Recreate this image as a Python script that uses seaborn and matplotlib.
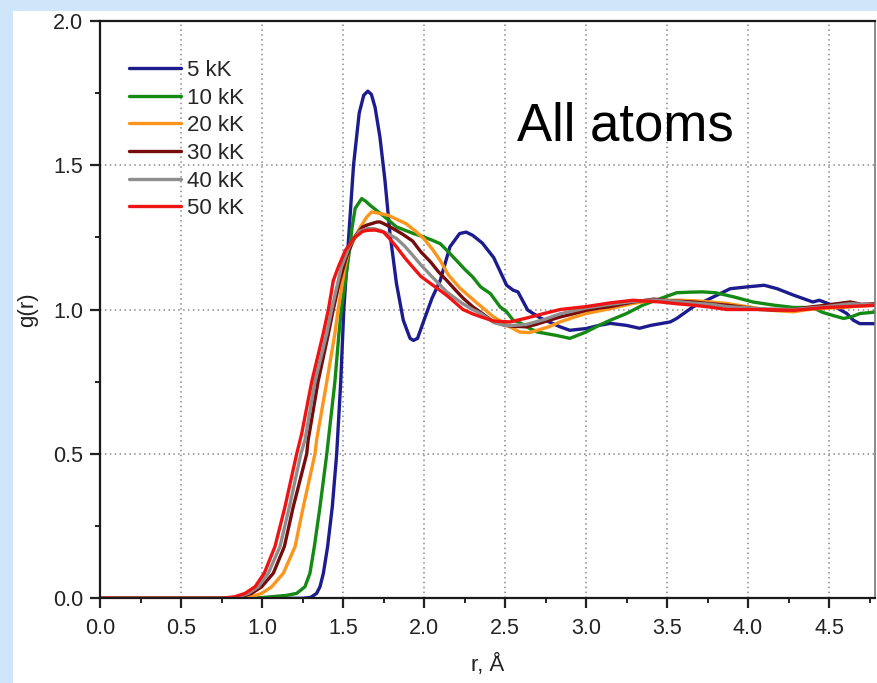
import numpy as np
import pandas as pd
import matplotlib
matplotlib.use("Agg")
import matplotlib.pyplot as plt
from matplotlib.patches import Rectangle
from matplotlib.ticker import MultipleLocator
import seaborn as sns

# Radial distribution functions g(r) at several temperatures
r_5 = [0, 1.25, 1.30, 1.337, 1.358, 1.379, 1.405, 1.434, 1.461, 1.486, 1.505, 1.535,
       1.565, 1.60, 1.628, 1.653, 1.675, 1.698, 1.728, 1.759, 1.79, 1.83, 1.872, 1.914,
       1.935, 1.96, 2.0, 2.05, 2.10, 2.16, 2.22, 2.26, 2.30, 2.36, 2.43, 2.51, 2.55,
       2.58, 2.64, 2.72, 2.84, 2.90, 3.0, 3.08, 3.15, 3.25, 3.33, 3.40, 3.46, 3.52,
       3.56, 3.66, 3.77, 3.89, 3.99, 4.10, 4.18, 4.28, 4.40, 4.44, 4.52, 4.61, 4.65,
       4.69, 4.80]
g_5 = [0, 0, 0.003, 0.017, 0.04, 0.087, 0.179, 0.317, 0.5, 0.75, 1.0, 1.25,
       1.5, 1.68, 1.742, 1.756, 1.745, 1.70, 1.597, 1.447, 1.263, 1.09, 0.963, 0.90,
       0.893, 0.90, 0.963, 1.04, 1.10, 1.217, 1.263, 1.268, 1.257, 1.23, 1.18, 1.084, 1.067,
       1.061, 0.998, 0.97, 0.94, 0.928, 0.934, 0.945, 0.952, 0.945, 0.935, 0.945, 0.951, 0.957,
       0.969, 1.009, 1.039, 1.072, 1.078, 1.084, 1.072, 1.05, 1.026, 1.032, 1.015, 0.986, 0.963,
       0.951, 0.951]

r_10 = [0, 0.95, 1.05, 1.15, 1.214, 1.265, 1.296, 1.323, 1.358, 1.40, 1.45, 1.475,
        1.49, 1.52, 1.54, 1.555, 1.575, 1.615, 1.64, 1.667, 1.73, 1.78, 1.83, 1.88,
        1.93, 2.0, 2.05, 2.10, 2.15, 2.20, 2.25, 2.30, 2.35, 2.41, 2.47, 2.51, 2.55,
        2.59, 2.65, 2.70, 2.74, 2.82, 2.90, 3.0, 3.08, 3.15, 3.25, 3.35, 3.46, 3.56,
        3.64, 3.72, 3.80, 3.91, 4.03, 4.16, 4.28, 4.40, 4.46, 4.52, 4.59, 4.64, 4.69,
        4.80]
g_10 = [0, 0, 0.005, 0.01, 0.017, 0.04, 0.087, 0.179, 0.317, 0.5, 0.75, 0.917,
        1.0, 1.12, 1.205, 1.28, 1.35, 1.384, 1.375, 1.361, 1.333, 1.31, 1.286, 1.275,
        1.264, 1.251, 1.24, 1.228, 1.20, 1.17, 1.14, 1.113, 1.078, 1.055, 1.009, 0.992, 0.963,
        0.955, 0.935, 0.922, 0.918, 0.91, 0.90, 0.922, 0.945, 0.963, 0.986, 1.015, 1.038, 1.058,
        1.06, 1.061, 1.058, 1.044, 1.026, 1.015, 1.007, 1.007, 0.99, 0.98, 0.969, 0.975, 0.986,
        0.992]

r_20 = [0, 0.85, 0.93, 0.998, 1.06, 1.132, 1.204, 1.255, 1.327, 1.337, 1.40, 1.45,
        1.47, 1.512, 1.535, 1.595, 1.646, 1.677, 1.73, 1.78, 1.84, 1.89, 1.95, 2.0,
        2.05, 2.10, 2.15, 2.22, 2.33, 2.43, 2.53, 2.59, 2.65, 2.70, 2.77, 2.84, 2.92,
        3.0, 3.08, 3.15, 3.22, 3.29, 3.37, 3.46, 3.58, 3.68, 3.77, 3.87, 3.97, 4.07,
        4.17, 4.28, 4.35, 4.42, 4.50, 4.59, 4.68, 4.80]
g_20 = [0, 0, 0.005, 0.017, 0.04, 0.087, 0.179, 0.317, 0.5, 0.548, 0.75, 0.917,
        1.0, 1.147, 1.205, 1.274, 1.32, 1.338, 1.332, 1.326, 1.31, 1.297, 1.27, 1.245,
        1.21, 1.17, 1.12, 1.075, 1.021, 0.974, 0.94, 0.922, 0.92, 0.928, 0.94, 0.957, 0.972,
        0.986, 0.995, 1.003, 1.012, 1.021, 1.028, 1.032, 1.032, 1.03, 1.026, 1.021, 1.012, 1.003,
        0.996, 0.992, 0.998, 1.003, 1.005, 1.007, 1.012, 1.015]

r_30 = [0, 0.80, 0.87, 0.936, 0.998, 1.07, 1.138, 1.193, 1.276, 1.285, 1.346, 1.41,
        1.44, 1.48, 1.52, 1.57, 1.62, 1.646, 1.71, 1.73, 1.77, 1.81, 1.87, 1.93,
        1.98, 2.04, 2.09, 2.14, 2.19, 2.24, 2.30, 2.35, 2.43, 2.50, 2.55, 2.63, 2.69,
        2.74, 2.84, 2.92, 3.0, 3.08, 3.15, 3.22, 3.29, 3.42, 3.52, 3.66, 3.77, 3.87,
        3.97, 4.07, 4.17, 4.28, 4.38, 4.48, 4.55, 4.63, 4.70, 4.80]
g_30 = [0, 0, 0.005, 0.017, 0.04, 0.087, 0.179, 0.317, 0.5, 0.548, 0.75, 0.917,
        1.0, 1.1, 1.18, 1.25, 1.285, 1.292, 1.303, 1.303, 1.292, 1.28, 1.26, 1.237,
        1.20, 1.165, 1.13, 1.101, 1.07, 1.04, 1.01, 0.99, 0.957, 0.945, 0.942, 0.94, 0.948,
        0.957, 0.974, 0.985, 0.997, 1.005, 1.01, 1.018, 1.026, 1.036, 1.03, 1.026, 1.02, 1.015,
        1.008, 1.0, 0.998, 1.0, 1.008, 1.015, 1.02, 1.026, 1.018, 1.02]

r_40 = [0, 0.78, 0.85, 0.915, 0.977, 1.039, 1.111, 1.169, 1.24, 1.265, 1.327, 1.40,
        1.43, 1.49, 1.54, 1.60, 1.65, 1.69, 1.73, 1.78, 1.83, 1.88, 1.93, 1.98,
        2.04, 2.09, 2.14, 2.19, 2.24, 2.30, 2.35, 2.43, 2.50, 2.55, 2.63, 2.74, 2.84,
        3.0, 3.15, 3.29, 3.42, 3.52, 3.66, 3.77, 3.87, 4.07, 4.28, 4.48, 4.63, 4.80]
g_40 = [0, 0, 0.005, 0.017, 0.04, 0.087, 0.179, 0.317, 0.5, 0.548, 0.75, 0.917,
        1.0, 1.147, 1.22, 1.27, 1.28, 1.28, 1.274, 1.262, 1.246, 1.22, 1.188, 1.155,
        1.119, 1.09, 1.061, 1.04, 1.02, 1.0, 0.986, 0.955, 0.945, 0.945, 0.948, 0.965, 0.985,
        1.005, 1.018, 1.028, 1.033, 1.03, 1.022, 1.018, 1.01, 1.003, 1.0, 1.01, 1.02, 1.015]

r_50 = [0, 0.75, 0.83, 0.895, 0.957, 1.014, 1.08, 1.142, 1.214, 1.245, 1.307, 1.378,
        1.41, 1.44, 1.471, 1.515, 1.574, 1.62, 1.646, 1.70, 1.75, 1.78, 1.83, 1.88,
        1.93, 1.98, 2.04, 2.09, 2.14, 2.19, 2.24, 2.30, 2.35, 2.43, 2.53, 2.63, 2.74,
        2.84, 3.0, 3.15, 3.29, 3.46, 3.56, 3.66, 3.77, 3.87, 4.07, 4.28, 4.48, 4.69, 4.80]
g_50 = [0, 0, 0.005, 0.017, 0.04, 0.087, 0.179, 0.317, 0.5, 0.57, 0.75, 0.917,
        1.0, 1.1, 1.147, 1.205, 1.25, 1.27, 1.274, 1.275, 1.268, 1.25, 1.217, 1.18,
        1.147, 1.115, 1.09, 1.07, 1.049, 1.025, 1.0, 0.985, 0.975, 0.96, 0.957, 0.97, 0.986,
        1.0, 1.01, 1.023, 1.032, 1.026, 1.02, 1.015, 1.008, 1.0, 1.0, 0.997, 1.007, 1.012, 1.015]

labels = ["5 kK", "10 kK", "20 kK", "30 kK", "40 kK", "50 kK"]
colors = ["#1c1c8e", "#148a14", "#fb951c", "#760c0c", "#8e8e8e", "#ee1414"]
series_r = [r_5, r_10, r_20, r_30, r_40, r_50]
series_g = [g_5, g_10, g_20, g_30, g_40, g_50]

frames = [pd.DataFrame({"r": rr, "g": gg, "T": lab})
          for rr, gg, lab in zip(series_r, series_g, labels)]
df = pd.concat(frames, ignore_index=True)

sns.set_style("white")
plt.rcParams["font.family"] = ["Liberation Sans", "DejaVu Sans"]

W, H = 877, 683
fig = plt.figure(figsize=(W / 100, H / 100), dpi=100, facecolor="#cfe5fa")
# white slide panel behind the plot
fig.patches.append(Rectangle((13 / W, 0), 1, (H - 11) / H, transform=fig.transFigure,
                             facecolor="white", edgecolor="none", zorder=-10))

ax = fig.add_axes([100 / W, (H - 598.3) / H, 775 / W, (598.3 - 20.7) / H])
ax.set_zorder(5)
ax.set_facecolor("white")

sns.lineplot(data=df, x="r", y="g", hue="T", hue_order=labels,
             palette=dict(zip(labels, colors)), estimator=None, sort=False,
             linewidth=2.4, ax=ax)

ax.set_xlim(0, 775 / 162)
ax.set_ylim(0, 2.0)
ax.xaxis.set_major_locator(MultipleLocator(0.5))
ax.xaxis.set_minor_locator(MultipleLocator(0.25))
ax.yaxis.set_major_locator(MultipleLocator(0.5))
ax.yaxis.set_minor_locator(MultipleLocator(0.25))
ax.xaxis.set_major_formatter(matplotlib.ticker.FormatStrFormatter("%.1f"))
ax.yaxis.set_major_formatter(matplotlib.ticker.FormatStrFormatter("%.1f"))

ax.tick_params(axis="both", which="major", direction="out", length=7, width=1.6,
               labelsize=15.5, pad=5, colors="#222222", bottom=True, left=True)
ax.tick_params(axis="x", which="major", pad=7)
ax.tick_params(axis="both", which="minor", direction="out", length=3.8, width=1.4,
               colors="#222222", bottom=True, left=True)

ax.grid(True, which="major", linestyle=(0, (1, 2.2)), color="#8a8a8a", linewidth=1.1)
for side in ["left", "bottom", "top"]:
    ax.spines[side].set_color("#1a1a1a")
    ax.spines[side].set_linewidth(1.6)
ax.spines["right"].set_color("#777777")
ax.spines["right"].set_linewidth(1.2)

ax.set_xlabel("r, Å", fontsize=16, color="#222222")
ax.set_ylabel("g(r)", fontsize=16, color="#222222")
ax.xaxis.set_label_coords(0.5, -0.097)
ax.yaxis.set_label_coords(-0.08, 0.5)

leg = ax.legend(loc="upper left", bbox_to_anchor=(0.026, 0.9476), frameon=False,
                fontsize=16, handlelength=2.34, handletextpad=0.27,
                labelspacing=0.3, borderaxespad=0)
for line in leg.get_lines():
    line.set_linewidth(2.4)

ax.text((517 - 100) / 162, (598.3 - 140) / 289, "All atoms", fontsize=38,
        ha="left", va="baseline", color="black")

fig.savefig("out.png", dpi=100, facecolor=fig.get_facecolor())
